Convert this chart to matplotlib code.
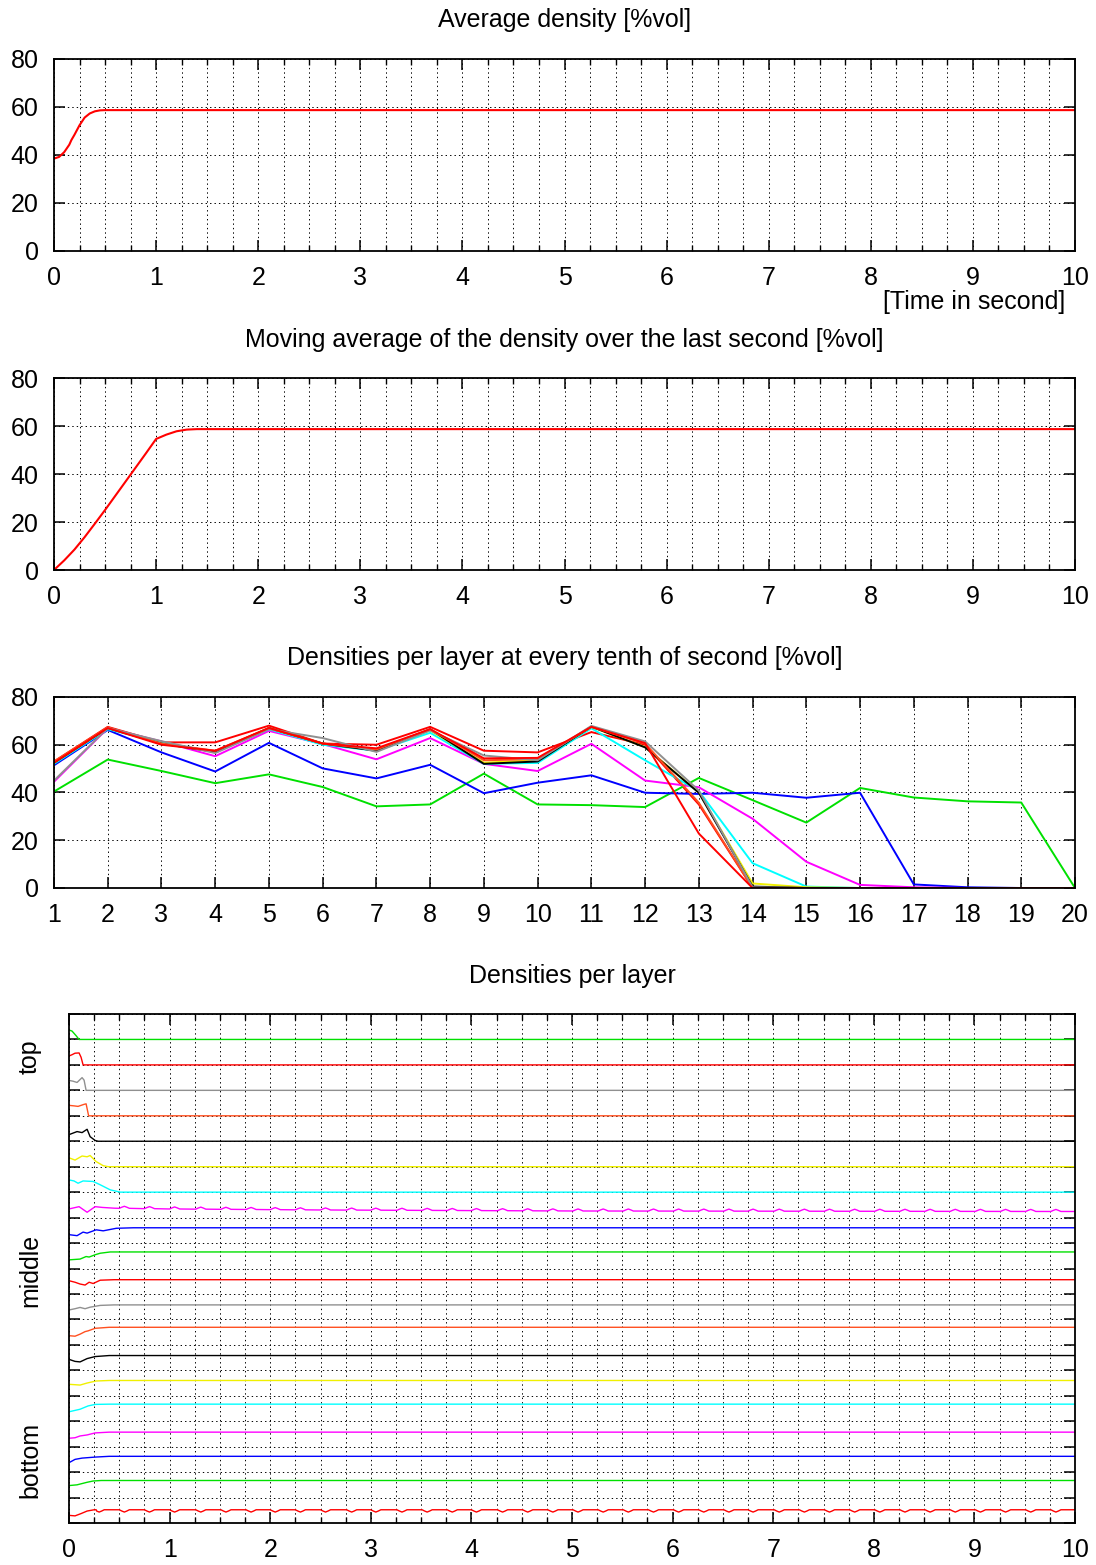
import numpy as np
import matplotlib
matplotlib.use("Agg")
import matplotlib.pyplot as plt
from matplotlib.ticker import MultipleLocator, NullFormatter

plt.rcParams['font.family'] = ['Liberation Sans', 'DejaVu Sans']
plt.rcParams['font.size'] = 18
plt.rcParams['lines.scale_dashes'] = False

# ---------------- data ----------------
# Average density [%vol] over time [s]
avg_t = [0, 0.05, 0.10, 0.15, 0.17, 0.20, 0.25, 0.30, 0.35, 0.40, 0.45, 0.50, 10]
avg_d = [38.5, 39.2, 41.2, 44.3, 46.2, 48.4, 52.4, 55.6, 57.3, 58.2, 58.6, 58.7, 58.7]

# Moving average of the density over the last second
mov_t = [0, 0.1, 0.2, 0.3, 0.4, 0.5, 0.6, 0.7, 0.8, 0.9, 1.0, 1.1, 1.2, 1.3, 1.4, 10]
mov_d = [0, 4.0, 8.5, 13.7, 19.3, 25.0, 30.9, 36.8, 42.7, 48.6, 54.6, 56.4, 57.8, 58.5, 58.7, 58.7]

# Densities per layer (layer 1..20) for successive snapshots
layers = list(range(1, 21))
snap_red_a = [53, 67.5, 61, 61, 68, 60.5, 60, 67.5, 57.5, 56.8, 65.3, 60, 35, 0, 0, 0, 0, 0, 0, 0]
snap_green = [40.4, 53.8, 49, 43.9, 47.6, 42.3, 34.2, 35.0, 47.9, 35.0, 34.7, 33.9, 46.1, 36.8,
              27.4, 41.9, 37.9, 36.3, 35.8, 0]
snap_blue = [51.4, 66.2, 56.8, 48.8, 60.8, 50.1, 45.9, 51.6, 39.7, 44.1, 47.2, 39.9, 39.4, 39.9,
             37.8, 39.9, 1.5, 0.3, 0, 0]
snap_magenta = [44.5, 66.9, 61.4, 55.2, 65.8, 60.3, 53.9, 62.8, 52, 49.0, 60.4, 45, 42.2, 29,
                11, 1.3, 0.3, 0, 0, 0]
snap_cyan = [52, 66.5, 61, 57, 66.5, 60, 57.5, 65, 52, 52.4, 66.9, 53.5, 40.6, 10.4, 0.6, 0, 0, 0, 0, 0]
snap_yellow = [52.5, 67, 60.5, 57, 67, 60.5, 58, 66, 52.5, 53.5, 67.5, 59, 40, 1.9, 0.3, 0, 0, 0, 0, 0]
snap_black = [52.5, 67, 60.5, 57, 67, 60.5, 57.5, 66.5, 52, 53, 67.6, 58.9, 39.9, 0.6, 0, 0, 0, 0, 0, 0]
snap_orange = [53, 67.3, 60.5, 57.5, 67, 60.5, 58, 66.5, 53.5, 54, 67.5, 60.5, 35.7, 0, 0, 0, 0, 0, 0, 0]
snap_gray = [45, 67, 61.5, 56.5, 66.5, 62.8, 57, 66, 55.5, 53.5, 67.9, 61.4, 40.8, 0.3, 0, 0, 0, 0, 0, 0]
snap_red_b = [52.5, 67, 60, 57.5, 67, 60.5, 58.5, 66.5, 54.3, 54.5, 67.5, 60.7, 22.8, 0, 0, 0, 0, 0, 0, 0]

# Density time series per layer, (time [s], density [%vol]), layer 1 = bottom
layer01 = [(0, 30), (0.06, 28), (0.12, 37), (0.18, 47), (0.27, 52), (10, 52)]
layer02 = [(0, 47), (0.08, 50), (0.18, 60), (0.24, 65), (0.32, 67), (10, 67)]
layer03 = [(0, 37), (0.06, 50), (0.13, 55), (0.26, 59), (0.4, 62), (10, 62)]
layer04 = [(0, 33), (0.06, 35), (0.11, 42), (0.18, 46), (0.26, 54), (0.4, 57), (10, 57)]
layer05 = [(0, 37), (0.11, 47), (0.19, 60), (0.26, 66), (0.4, 67), (10, 67)]
layer06 = [(0, 45), (0.11, 42), (0.18, 50), (0.27, 58), (0.4, 60), (10, 60)]
layer07 = [(0, 43), (0.06, 35), (0.11, 33), (0.18, 46), (0.26, 54), (0.4, 58), (10, 58)]
layer08 = [(0, 36), (0.06, 34), (0.11, 42), (0.16, 52), (0.19, 55), (0.26, 65), (0.4, 69), (10, 69)]
layer09 = [(0, 37), (0.06, 42), (0.11, 47), (0.16, 42), (0.21, 48), (0.31, 55), (0.45, 57), (10, 57)]
layer10 = [(0, 52), (0.06, 46), (0.11, 39), (0.16, 35), (0.20, 46), (0.24, 41), (0.31, 54),
           (0.45, 56), (10, 56)]
layer11 = [(0, 34), (0.11, 37), (0.17, 47), (0.20, 45), (0.26, 54), (0.31, 60), (0.41, 65), (10, 65)]
layer12 = [(0, 33), (0.08, 29), (0.14, 43), (0.18, 39), (0.27, 52), (0.34, 48), (0.47, 58),
           (0.64, 60), (10, 60)]
layer13 = [(0, 34), (0.10, 43), (0.18, 21), (0.26, 43), (0.33, 40), (0.45, 37), (1.0, 34),
           (2.5, 30), (5.0, 26), (10, 24)]
layer14 = [(0, 48), (0.05, 44), (0.09, 35), (0.14, 44), (0.24, 42), (0.31, 29), (0.41, 9),
           (0.51, 0), (10, 0)]
layer15 = [(0, 35), (0.06, 26), (0.13, 42), (0.18, 39), (0.21, 44), (0.27, 20), (0.34, 4),
           (0.39, 0), (10, 0)]
layer16 = [(0, 26), (0.08, 38), (0.13, 34), (0.18, 47), (0.21, 18), (0.26, 3), (0.29, 0), (10, 0)]
layer17 = [(0, 41), (0.05, 39), (0.09, 37), (0.15, 45), (0.17, 47), (0.195, 0), (10, 0)]
layer18 = [(0, 39), (0.04, 36), (0.08, 31), (0.13, 50), (0.15, 40), (0.17, 0), (10, 0)]
layer19 = [(0, 35), (0.03, 40), (0.06, 46), (0.10, 47), (0.12, 30), (0.14, 0), (10, 0)]
layer20 = [(0, 37), (0.03, 33), (0.07, 15), (0.10, 0), (10, 0)]

# Times of the small periodic pulses seen on the bottom layer and on layer 13
pulse_t = [0.30, 0.55, 0.80, 1.05, 1.31, 1.56, 1.81, 2.05, 2.30, 2.55, 2.81, 3.05, 3.31,
           3.56, 3.81, 4.05, 4.31, 4.56, 4.81, 5.06, 5.31, 5.56, 5.81, 6.06, 6.31, 6.56,
           6.80, 7.06, 7.31, 7.56, 7.81, 8.06, 8.31, 8.56, 8.81, 9.06, 9.31, 9.56, 9.81]
pulse_amp_bottom = -9   # %vol dip on layer 1
pulse_amp_l13 = 8       # %vol bump on layer 13

# ---------------- styles ----------------
cycle = ['#ff0000', '#00e000', '#0000ff', '#ff00ff', '#00ffff',
         '#f0f000', '#000000', '#ff5020', '#909090']
snap_colors = cycle + ['#ff0000']
grid_kw = dict(color='black', linestyle=(0, (1.0, 2.2)), linewidth=0.7)

W, H = 1096, 1565
fig = plt.figure(figsize=(W / 100, H / 100), dpi=100)


def add_axes(left, top, right, bottom):
    return fig.add_axes([left / W, 1 - bottom / H, (right - left) / W, (bottom - top) / H])


def style(ax, minor_x=True):
    ax.set_axisbelow(True)
    for s in ax.spines.values():
        s.set_linewidth(1.3)
    ax.tick_params(which='major', direction='in', top=True, right=True,
                   length=8, width=1.1, pad=11, labelsize=18)
    ax.tick_params(which='minor', direction='in', top=True, right=True,
                   length=4, width=1.0)
    ax.grid(which='major', axis='both', **grid_kw)
    if minor_x:
        ax.grid(which='minor', axis='x', **grid_kw)


def title(text, xc, yc):
    fig.text(xc / W, 1 - yc / H, text, ha='center', va='center', fontsize=18)


# Panel 1: average density
ax1 = add_axes(54, 59, 1075, 251)
ax1.plot(avg_t, avg_d, color='#ff0000', lw=1.5)
ax1.set_xlim(0, 10)
ax1.set_ylim(0, 80)
ax1.xaxis.set_major_locator(MultipleLocator(1))
ax1.xaxis.set_minor_locator(MultipleLocator(0.25))
ax1.yaxis.set_major_locator(MultipleLocator(20))
style(ax1)
title('Average density [%vol]', 564.5, 20)
fig.text(1065 / W, 1 - 302 / H, '[Time in second]', ha='right', va='center', fontsize=18)

# Panel 2: moving average over the last second
ax2 = add_axes(54, 378, 1075, 570)
ax2.plot(mov_t, mov_d, color='#ff0000', lw=1.5)
ax2.set_xlim(0, 10)
ax2.set_ylim(0, 80)
ax2.xaxis.set_major_locator(MultipleLocator(1))
ax2.xaxis.set_minor_locator(MultipleLocator(0.25))
ax2.yaxis.set_major_locator(MultipleLocator(20))
style(ax2)
title('Moving average of the density over the last second [%vol]', 564.5, 340)

# Panel 3: densities per layer for successive snapshots
ax3 = add_axes(54, 697, 1075, 888)
snaps = [snap_red_a, snap_green, snap_blue, snap_magenta, snap_cyan,
         snap_yellow, snap_black, snap_orange, snap_gray, snap_red_b]
for vals, c in zip(snaps, snap_colors):
    ax3.plot(layers, vals, color=c, lw=1.4)
ax3.set_xlim(1, 20)
ax3.set_ylim(0, 80)
ax3.xaxis.set_major_locator(MultipleLocator(1))
ax3.yaxis.set_major_locator(MultipleLocator(20))
style(ax3, minor_x=False)
title('Densities per layer at every tenth of second [%vol]', 564.5, 658)

# Panel 4: stacked density traces, one band per layer
ax4 = add_axes(69, 1014, 1075, 1523)
all_layers = [layer01, layer02, layer03, layer04, layer05, layer06, layer07, layer08,
              layer09, layer10, layer11, layer12, layer13, layer14, layer15, layer16,
              layer17, layer18, layer19, layer20]


def with_pulses(points, amp, start):
    t = np.array([p[0] for p in points], dtype=float)
    d = np.array([p[1] for p in points], dtype=float)
    tt, dd = list(t), list(d)
    for tp in pulse_t:
        if tp < start:
            continue
        base = np.interp(tp, t, d)
        for dt, frac in ((-0.05, 0.0), (-0.025, 0.55), (0.0, 1.0), (0.025, 0.55), (0.05, 0.0)):
            tt.append(tp + dt)
            dd.append(base + frac * amp)
    order = np.argsort(tt, kind='stable')
    return np.array(tt)[order], np.array(dd)[order]


for i, pts in enumerate(all_layers):
    if i == 0:
        t, d = with_pulses(pts, pulse_amp_bottom, 0.25)
    elif i == 12:
        t, d = with_pulses(pts, pulse_amp_l13, 0.5)
    else:
        t = np.array([p[0] for p in pts])
        d = np.array([p[1] for p in pts])
    ax4.plot(t, i + d / 100.0, color=cycle[i % 9], lw=1.0)

ax4.set_xlim(0, 10)
ax4.set_ylim(0, 20)
ax4.xaxis.set_major_locator(MultipleLocator(1))
ax4.xaxis.set_minor_locator(MultipleLocator(0.25))
ax4.yaxis.set_major_locator(MultipleLocator(1))
ax4.yaxis.set_major_formatter(NullFormatter())
style(ax4)
title('Densities per layer', 572, 976)
for txt, yc in (('top', 1057), ('middle', 1270), ('bottom', 1460)):
    fig.text(30 / W, 1 - yc / H, txt, rotation=90, ha='center', va='center', fontsize=18)

fig.savefig('out.png', dpi=100)
